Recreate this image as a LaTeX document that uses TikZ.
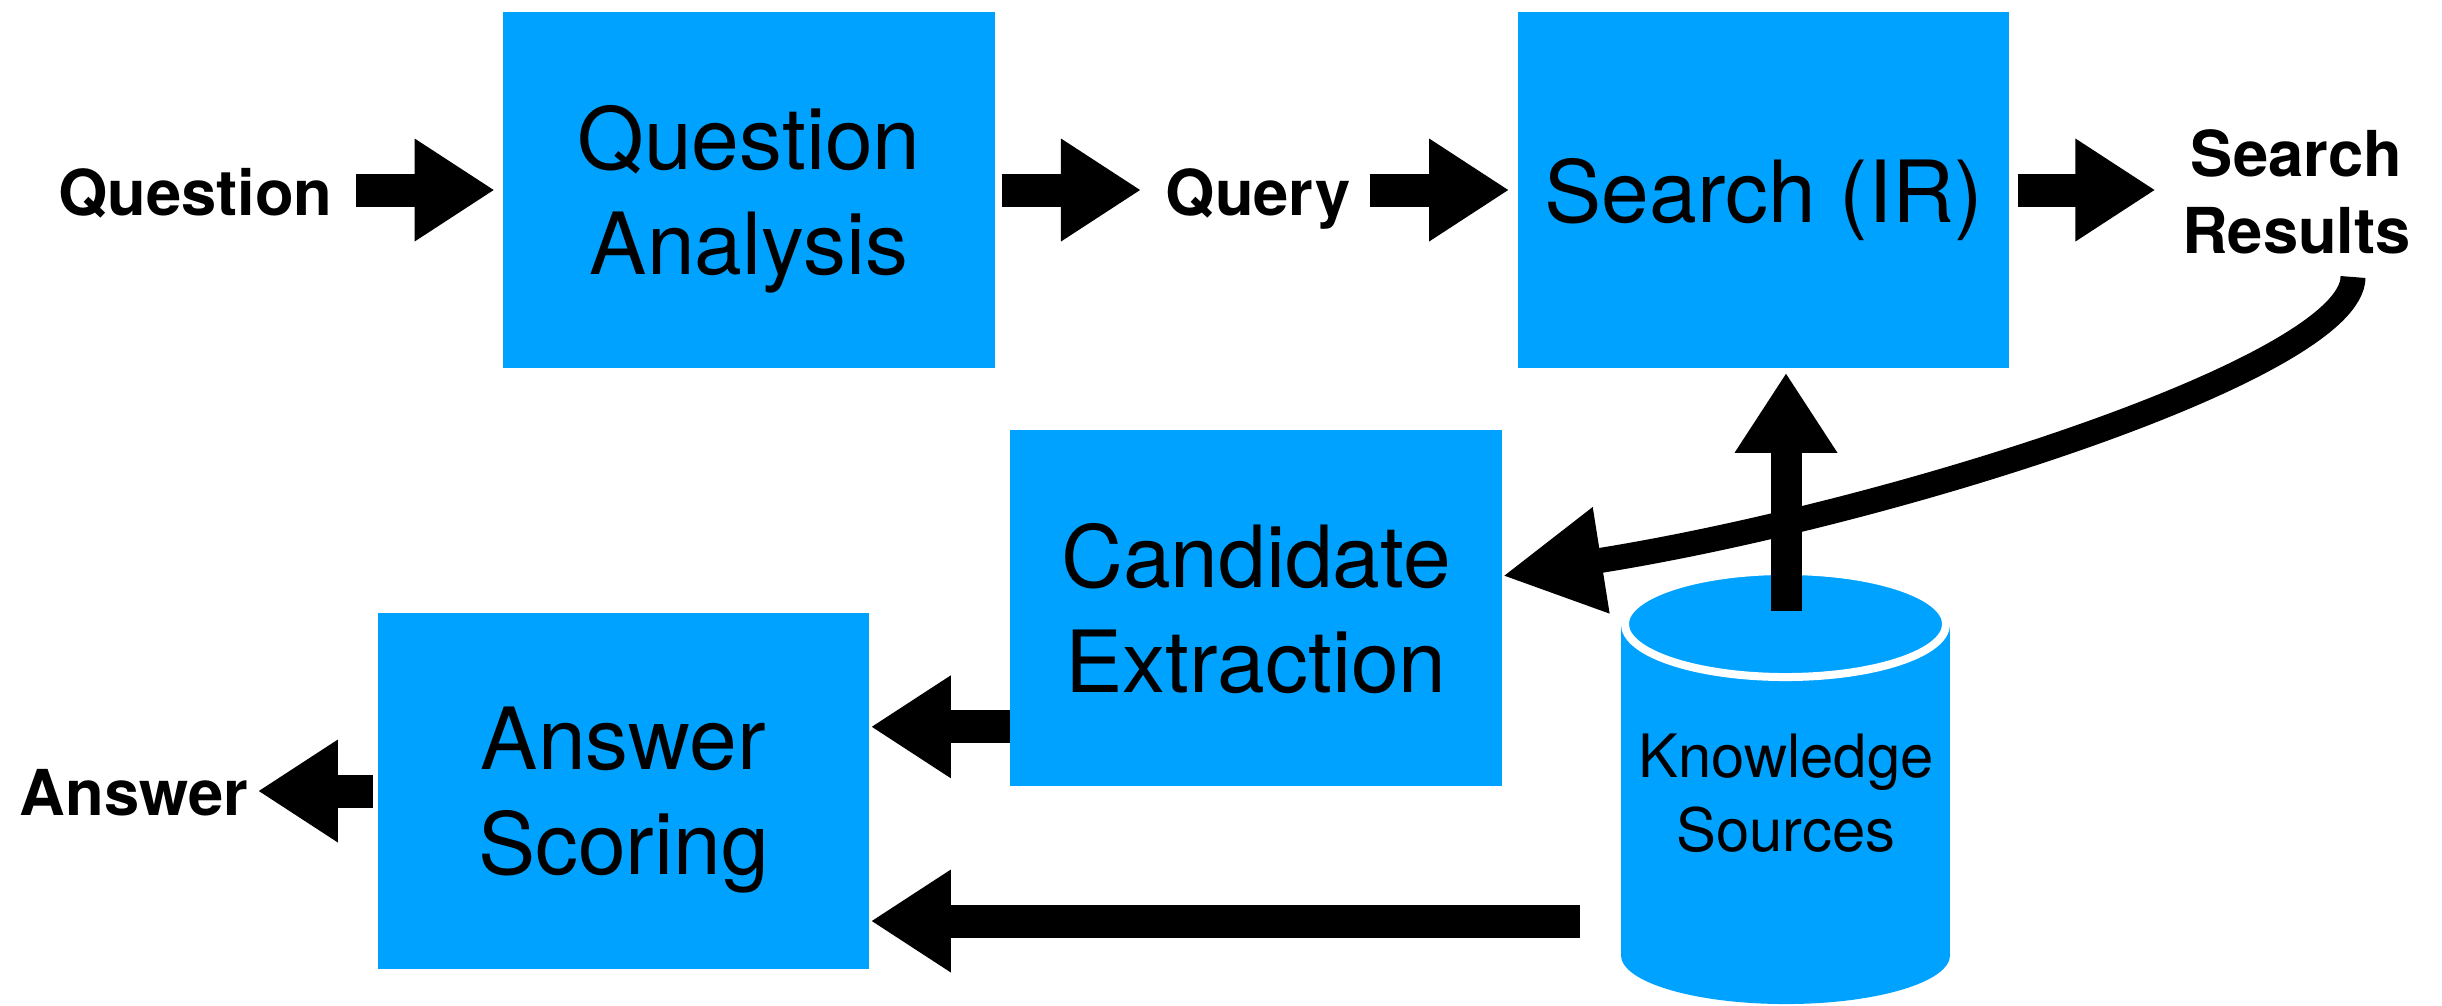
\documentclass[tikz,border=0pt]{standalone}
\usepackage{fontspec}
\setmainfont{TeX Gyre Heros}
\usetikzlibrary{arrows.meta}
\definecolor{qablue}{RGB}{0,162,255}

\begin{document}
\begin{tikzpicture}[x=0.01cm,y=-0.01cm,
    blk/.style={fill=qablue, minimum width=4.91cm, minimum height=3.56cm, align=center,
        inner sep=0pt, text depth=0pt, font=\fontsize{24.4}{29.8}\selectfont},
    lbl/.style={inner sep=0pt, font=\bfseries\fontsize{18}{21.8}\selectfont},
    fat/.style={line width=3.3mm, -{Triangle[length=8mm,width=9.7mm]}},
    bent/.style={line width=2.5mm, -{Triangle[length=10mm,width=10mm]}}]
    \useasboundingbox (0,0) rectangle (2442,1005);
    % boxes
    \node[blk] (qa) at (749,190) {Question\\Analysis};
    \node[blk] (ir) at (1763.5,190) {Search (IR)};
    \node[blk] (cand) at (1256,608) {Candidate\\Extraction};
    \node[blk] (as) at (623.5,791) {Answer\\Scoring};
    % labels
    \node[lbl, anchor=base] (q) at (195.5,215) {Question};
    \node[lbl, anchor=base] (query) at (1258,215) {Query};
    \node[lbl, align=center, text depth=0pt] (res) at (2296.5,191.5) {Search\\Results};
    \node[lbl, anchor=base] (ans) at (134,815) {Answer};
    % cylinder
    \fill[qablue] (1621,624) rectangle (1950,955);
    \fill[qablue] (1785.5,955) ellipse [x radius=1.645cm, y radius=0.49cm];
    \draw[white, line width=0.8mm, fill=qablue] (1785.5,624) ellipse [x radius=1.605cm, y radius=0.53cm];
    \node[inner sep=0pt, align=center, text depth=0pt, font=\fontsize{17}{21}\selectfont] (ks) at (1786,793) {Knowledge\\Sources};
    \coordinate (kup) at (1786,611);
    \coordinate (kout) at (1580,921);
    \coordinate (rout) at (2353,277);
    % arrows
    \draw[fat, shorten <=0.23cm, shorten >=0.08cm] (q.east |- qa.west) -- (qa.west);
    \draw[fat, shorten <=0.07cm, shorten >=0.24cm] (qa.east) -- (qa.east -| query.west);
    \draw[fat, shorten <=0.19cm, shorten >=0.08cm] (query.east |- ir.west) -- (ir.west);
    \draw[fat, shorten <=0.08cm, shorten >=0.26cm] (ir.east) -- (ir.east -| res.west);
    \draw[fat, line width=3.1mm, shorten >=0.04cm] (kup) -- (kup |- ir.south);
    \draw[bent] (rout) .. controls (2353,367) and (1893,514) .. ([yshift=0.32cm]cand.east);
    \draw[fat, shorten >=0.01cm] ([yshift=0.6cm]cand.south west) -- ([yshift=0.6cm]cand.south west -| as.east);
    \draw[fat, shorten >=0.01cm] (kout) -- (kout -| as.east);
    \draw[fat, shorten <=0.04cm, shorten >=0.09cm] (as.west) -- (as.west -| ans.east);
\end{tikzpicture}
\end{document}
